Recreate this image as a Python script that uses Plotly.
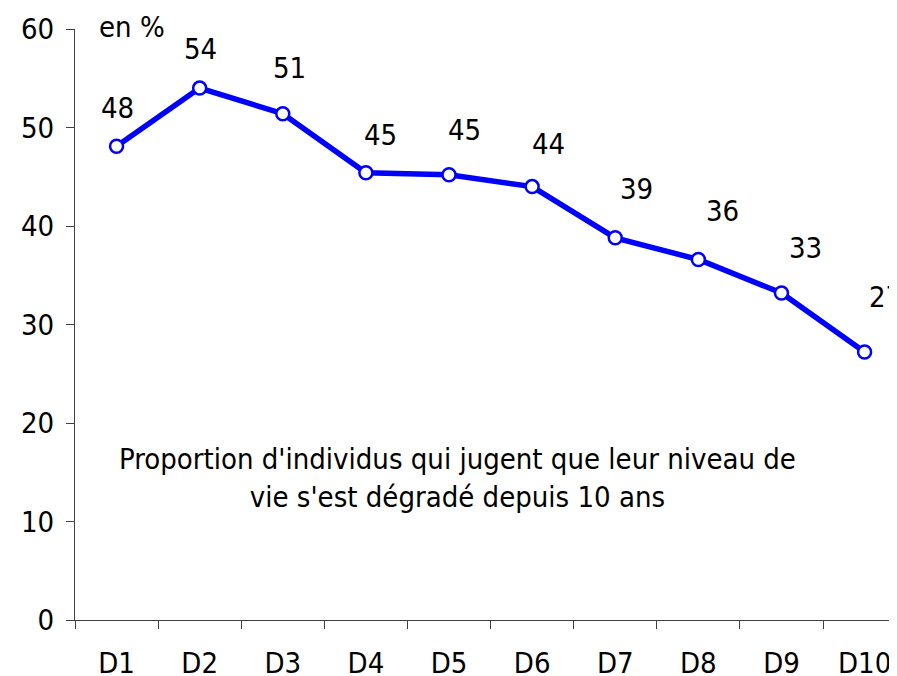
import plotly.graph_objects as go

categories = ["D1", "D2", "D3", "D4", "D5", "D6", "D7", "D8", "D9", "D10"]
values = [48.1, 54.0, 51.4, 45.4, 45.2, 44.0, 38.8, 36.6, 33.2, 27.2]
labels = ["48", "54", "51", "45", "45", "44", "39", "36", "33", "27"]
y_ticks = [0, 10, 20, 30, 40, 50, 60]

# label placement offsets (px) as placed in the original
label_dx = [1, 1, 7, 15, 15, 16, 21, 24, 24, 21]
label_dy = [38, 39, 46, 38, 45, 43, 49, 48, 45, 55]

FONT = "DejaVu Sans Condensed, DejaVu Sans, Liberation Sans, sans-serif"
FS = 29

fig = go.Figure()
fig.add_trace(go.Scatter(
    x=categories, y=values, mode="lines+markers",
    line=dict(color="#0000FF", width=5.5),
    marker=dict(symbol="circle", size=13, color="white",
                line=dict(color="#0000FF", width=2.5)),
    cliponaxis=False, showlegend=False, hoverinfo="skip",
))

for c, v, t, dx, dy in zip(categories, values, labels, label_dx, label_dy):
    fig.add_annotation(x=c, y=v, text=t, showarrow=False, xshift=dx, yshift=dy,
                       font=dict(family=FONT, size=FS, color="black"))

fig.add_annotation(xref="paper", yref="paper", x=(132 - 75) / 822, y=1 + 2 / 591,
                   text="en %", showarrow=False, xanchor="center", yanchor="middle",
                   font=dict(family=FONT, size=FS, color="black"))

fig.add_annotation(xref="paper", yref="paper", x=(457.5 - 75) / 822, y=(620 - 477.5) / 591,
                   text="Proportion d'individus qui jugent que leur niveau de<br>vie s'est dégradé depuis 10 ans",
                   showarrow=False, xanchor="center", yanchor="middle", align="center",
                   font=dict(family=FONT, size=FS, color="black"))

fig.update_xaxes(
    type="category", range=[-0.5, 9.39], tickson="boundaries",
    ticks="outside", ticklen=8, tickcolor="#404040", tickwidth=1,
    showline=True, linecolor="#404040", linewidth=1,
    showgrid=False, zeroline=False,
    tickfont=dict(family=FONT, size=FS, color="black"),
    ticklabelstandoff=17,
)
fig.update_yaxes(
    range=[0, 60], tickvals=y_ticks,
    ticks="outside", ticklen=8, tickcolor="#404040", tickwidth=1,
    showline=True, linecolor="#404040", linewidth=1,
    showgrid=False, zeroline=False,
    tickfont=dict(family=FONT, size=FS, color="black"),
    ticklabelstandoff=6,
)

# page body has an 8px margin, so the figure is sized/offset to compensate
fig.update_layout(
    width=889, height=668,
    margin=dict(l=67, r=0, t=21, b=56, autoexpand=False),
    paper_bgcolor="white", plot_bgcolor="white",
    font=dict(family=FONT, size=FS, color="black"),
)

fig.write_html("out.html")
